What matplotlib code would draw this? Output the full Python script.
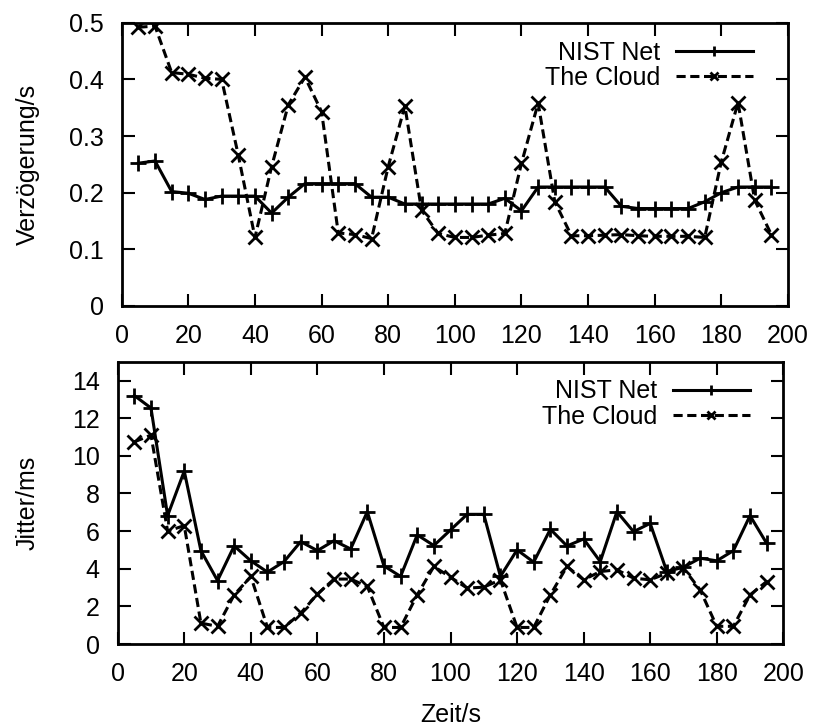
import numpy as np
import matplotlib
matplotlib.use("Agg")
import matplotlib.pyplot as plt

plt.rcParams['font.family'] = ['Liberation Sans', 'DejaVu Sans']

zeit = list(range(5, 200, 5))

# Verzoegerung (s)
delay_nist = [0.252, 0.256, 0.202, 0.199, 0.188, 0.194, 0.194, 0.194, 0.164, 0.192,
              0.216, 0.216, 0.216, 0.216, 0.192, 0.192, 0.180, 0.180, 0.180, 0.180,
              0.180, 0.180, 0.190, 0.168, 0.210, 0.210, 0.210, 0.210, 0.210, 0.176,
              0.172, 0.172, 0.172, 0.172, 0.184, 0.200, 0.210, 0.210, 0.210]
delay_cloud = [0.492, 0.494, 0.412, 0.409, 0.402, 0.400, 0.266, 0.121, 0.246, 0.355,
               0.404, 0.343, 0.129, 0.126, 0.119, 0.246, 0.353, 0.169, 0.128, 0.121,
               0.121, 0.125, 0.128, 0.252, 0.358, 0.184, 0.124, 0.124, 0.125, 0.126,
               0.124, 0.123, 0.123, 0.123, 0.121, 0.255, 0.359, 0.187, 0.126]

# Jitter (ms)
jitter_nist = [13.2, 12.54, 6.82, 9.19, 4.96, 3.37, 5.21, 4.42, 3.82, 4.38,
               5.44, 4.96, 5.49, 5.05, 7.03, 4.15, 3.59, 5.80, 5.23, 6.06,
               6.89, 6.89, 3.59, 5.00, 4.35, 6.10, 5.21, 5.58, 4.38, 7.03,
               5.97, 6.41, 3.85, 4.08, 4.56, 4.42, 4.96, 6.82, 5.35]
jitter_cloud = [10.74, 11.1, 6.0, 6.29, 1.11, 0.94, 2.61, 3.59, 0.88, 0.88,
                1.64, 2.65, 3.45, 3.45, 3.06, 0.88, 0.88, 2.61, 4.12, 3.55,
                2.97, 3.02, 3.41, 0.88, 0.88, 2.61, 4.12, 3.41, 3.85, 3.94,
                3.50, 3.41, 3.76, 4.03, 2.88, 0.94, 0.94, 2.61, 3.32]

FS = 18
W, H = 813.0, 726.0

fig = plt.figure(figsize=(8.13, 7.26), dpi=100)
# axes boxes in pixels: left, top, right, bottom
ax1 = fig.add_axes([121.7 / W, 1 - 306 / H, (788 - 121.7) / W, (306 - 22.7) / H])
ax2 = fig.add_axes([117.7 / W, 1 - 644 / H, (783.3 - 117.7) / W, (644 - 361.7) / H])

def draw(ax, y1, y2, leg_x, leg_y):
    ax.plot(zeit, y1, color='black', lw=2.2, marker='+', ms=12, mew=2, label='NIST Net')
    ax.plot(zeit, y2, color='black', lw=2.2, marker='x', ms=10, mew=2,
            dashes=(3, 1.5), label='The Cloud')
    ax.set_xlim(0, 200)
    ax.set_xticks(range(0, 201, 20))
    ax.tick_params(direction='in', length=9, width=1.5, top=True, right=True,
                   labelsize=FS)
    ax.tick_params(axis='x', pad=13)
    ax.tick_params(axis='y', pad=13)
    for s in ax.spines.values():
        s.set_linewidth(2)
    ax.legend(loc='upper right', frameon=False, markerfirst=False, fontsize=FS,
              handlelength=3.1, numpoints=1, borderaxespad=0, borderpad=0,
              labelspacing=0.05, handletextpad=0.6, markerscale=0.6,
              bbox_to_anchor=(leg_x, leg_y))

draw(ax1, delay_nist, delay_cloud, 0.9475, 0.937)
ax1.set_ylim(0, 0.5)
ax1.set_yticks([0, 0.1, 0.2, 0.3, 0.4, 0.5])
ax1.set_yticklabels(['0', '0.1', '0.2', '0.3', '0.4', '0.5'])
ax1.set_ylabel('Verzögerung/s', fontsize=FS)
ax1.yaxis.set_label_coords((40 - 121.7) / 666.3, 0.5)

draw(ax2, jitter_nist, jitter_cloud, 0.95, 0.937)
ax2.set_ylim(0, 15)
ax2.set_yticks(range(0, 15, 2))
ax2.set_ylabel('Jitter/ms', fontsize=FS)
ax2.yaxis.set_label_coords((40 - 117.7) / 665.6, 0.5)
ax2.set_xlabel('Zeit/s', fontsize=FS, labelpad=12)

fig.savefig('out.png', dpi=100)
